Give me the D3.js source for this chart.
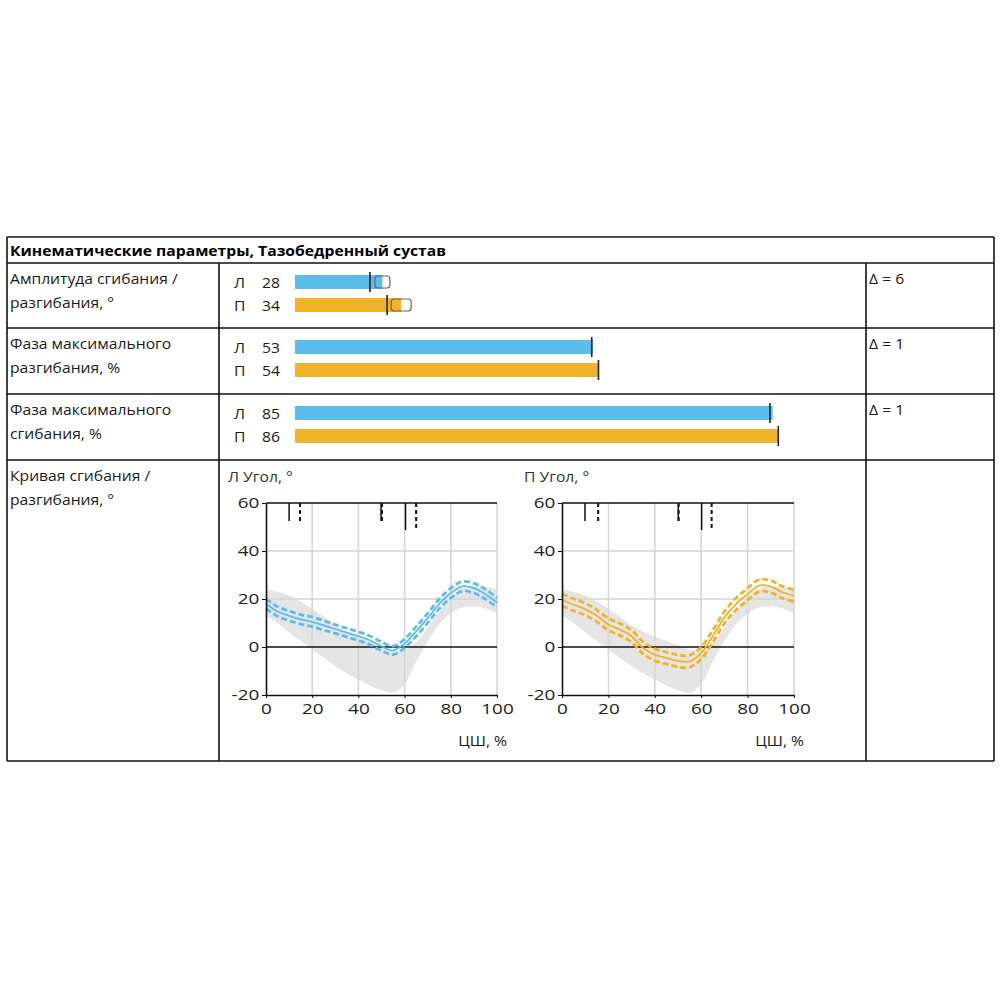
<!DOCTYPE html>
<html>
<head>
<meta charset="utf-8">
<script src="https://cdn.jsdelivr.net/npm/d3@7"></script>
<style>
body{margin:0;background:#fff}
text{font-family:"Open Sans",sans-serif;font-size:14px}
</style>
</head>
<body>
<div id="chart"></div>
<script>
// ---- data ----
var title = "Кинематические параметры, Тазобедренный сустав";
var sides = ["Л", "П"];
var sideColors = ["#5bbde9", "#f1b428"];
var rowLabels = [
	["Амплитуда сгибания /", "разгибания, °"],
	["Фаза максимального", "разгибания, %"],
	["Фаза максимального", "сгибания, %"],
	["Кривая сгибания /", "разгибания, °"]
];
var ampValues = [28, 34];
var ampStd = [2.4, 3.2];
var ampMarks = [24, 29.5];
var extPhase = [53, 54];
var extMarks = [52.8, 54];
var flexPhase = [85, 86];
var flexMarks = [84.5, 86];
var deltas = [6, 1, 1];

var cyclePct = [0, 5, 10, 15, 20, 25, 30, 35, 40, 45, 50, 55, 60, 65, 70, 75, 80, 85, 90, 95, 100];
var meanL = [18, 14.8, 13, 11.5, 10.5, 9, 7.5, 6, 4.5, 2.8, 0.3, -1.4, 1.5, 6.5, 12, 18, 22.5, 25.3, 24.5, 22, 18.5];
var stdL = [2, 2, 2, 2, 2, 2, 1.8, 1.8, 1.8, 1.8, 1.8, 1.8, 1.8, 2, 2, 2, 2, 2, 2, 2, 2];
var meanR = [19.6, 17.6, 15.8, 13, 9.4, 7.3, 4.5, -0.4, -3.2, -4.6, -5.8, -6, -2.5, 4.5, 12.3, 17.9, 22, 25.6, 25.2, 22.8, 21.4];
var stdR = [2.5, 2.5, 2.5, 2.5, 2.5, 2.5, 2.5, 2.5, 2.5, 2.5, 2.5, 2.5, 2.5, 2.5, 2.5, 2.5, 2.5, 2.5, 2.5, 2.5, 2.5];
var normUpper = [24, 23, 21.5, 19, 16, 12.5, 9, 6.5, 4.5, 2.5, 0.5, -1, -1, 2, 8, 15, 21, 24.5, 25.5, 25, 24];
var normLower = [13, 10, 6, 2.5, -1, -4.5, -8, -11, -13.5, -16, -18, -19, -15.5, -6, 2.5, 9.5, 14, 16.5, 17, 16, 14];

// gait events: opposite foot off, opposite foot contact, foot off
var eventsL = [10, 49.8, 60.4];
var eventsLRef = [14.7, 50.2, 65];
var eventsR = [9.9, 50.1, 60.2];
var eventsRRef = [15.6, 50.3, 64.5];
var eventLong = [false, false, true];

var xTicks = [0, 20, 40, 60, 80, 100];
var yTicks = [-20, 0, 20, 40, 60];

// ---- layout ----
var textStretch = 1.12;
var tickStretch = 1.35;

var svg = d3.select("#chart").append("svg")
	.attr("width", 1000)
	.attr("height", 1000);

// text drawn a bit wider than the font, like the source
function stxt(parent, x, y, str){
	return parent.append("text")
		.attr("transform", "translate(" + x + "," + y + ") scale(" + textStretch + ",1)")
		.attr("fill", "#1a1a1a")
		.text(str);
}

var tbl = {left: 7, right: 994, top: 237, col1: 219, col2: 866, rows: [263, 328, 394, 460, 761]};

// table borders
var hLines = [tbl.top].concat(tbl.rows);
svg.selectAll(".hline")
	.data(hLines)
	.enter().append("line")
	.attr("class", "hline")
	.attr("x1", tbl.left).attr("x2", tbl.right)
	.attr("y1", function(d){ return d }).attr("y2", function(d){ return d })
	.attr("stroke", "#111").attr("stroke-width", 1.6);

svg.selectAll(".vline")
	.data([[tbl.left, tbl.top], [tbl.right, tbl.top], [tbl.col1, tbl.rows[0]], [tbl.col2, tbl.rows[0]]])
	.enter().append("line")
	.attr("class", "vline")
	.attr("x1", function(d){ return d[0] }).attr("x2", function(d){ return d[0] })
	.attr("y1", function(d){ return d[1] }).attr("y2", tbl.rows[4])
	.attr("stroke", "#111").attr("stroke-width", 1.6);

stxt(svg, 10, 256, title)
	.attr("font-weight", "bold")
	.attr("fill", "#000");

// row labels
rowLabels.forEach(function(lines, r){
	lines.forEach(function(t, k){
		stxt(svg, 10, tbl.rows[r] + 21 + k * 24, t);
	});
});

// delta column
deltas.forEach(function(d, i){
	stxt(svg, 869, tbl.rows[i] + 21, "Δ = " + d);
});

// ---- bars ----
var xAmp = d3.scaleLinear().domain([0, 180]).range([295, 857]);
var xPhase = d3.scaleLinear().domain([0, 100]).range([295, 857]);

var barRows = [
	{vals: ampValues, marks: ampMarks, std: ampStd, scale: xAmp},
	{vals: extPhase, marks: extMarks, std: null, scale: xPhase},
	{vals: flexPhase, marks: flexMarks, std: null, scale: xPhase}
];

barRows.forEach(function(row, r){
	var g = svg.append("g");
	var barY = function(i){ return tbl.rows[r] + 12 + i * 23 };

	sides.forEach(function(s, i){
		stxt(g, 234, barY(i) + 13, s);
		stxt(g, 262, barY(i) + 13, row.vals[i]);
	});

	g.selectAll(".bar")
		.data(row.vals)
		.enter().append("rect")
		.attr("class", "bar")
		.attr("x", row.scale(0))
		.attr("y", function(d, i){ return barY(i) })
		.attr("width", function(d){ return row.scale(d) - row.scale(0) })
		.attr("height", 14)
		.attr("fill", function(d, i){ return sideColors[i] });

	if (row.std){
		g.selectAll(".std_box")
			.data(row.vals)
			.enter().append("rect")
			.attr("class", "std_box")
			.attr("x", function(d, i){ return row.scale(d - row.std[i]) })
			.attr("y", function(d, i){ return barY(i) + 1 })
			.attr("width", function(d, i){ return row.scale(d + row.std[i]) - row.scale(d - row.std[i]) })
			.attr("height", 12)
			.attr("rx", 3)
			.attr("fill", "none")
			.attr("stroke", "#666")
			.attr("stroke-width", 1.2);
	}

	g.selectAll(".mark")
		.data(row.marks)
		.enter().append("line")
		.attr("class", "mark")
		.attr("x1", function(d){ return row.scale(d) })
		.attr("x2", function(d){ return row.scale(d) })
		.attr("y1", function(d, i){ return barY(i) - 3 })
		.attr("y2", function(d, i){ return barY(i) + 17 })
		.attr("stroke", "#222")
		.attr("stroke-width", 1.6);
});

// ---- curve charts ----
function drawCurve(x0, x1, label, mean, std, color, ev, evRef){
	var g = svg.append("g");
	var x = d3.scaleLinear().domain([0, 100]).range([x0, x1]);
	var y = d3.scaleLinear().domain([-20, 60]).range([695, 503]);

	// grid
	g.selectAll(".vgrid")
		.data(xTicks.slice(1))
		.enter().append("line")
		.attr("x1", function(d){ return x(d) }).attr("x2", function(d){ return x(d) })
		.attr("y1", y(60)).attr("y2", y(-20))
		.attr("stroke", "#d6d6d6").attr("stroke-width", 1.6);
	g.selectAll(".hgrid")
		.data([20, 40])
		.enter().append("line")
		.attr("x1", x(0)).attr("x2", x(100))
		.attr("y1", function(d){ return y(d) }).attr("y2", function(d){ return y(d) })
		.attr("stroke", "#d6d6d6").attr("stroke-width", 1.6);

	// norm band
	var area = d3.area()
		.x(function(d, i){ return x(cyclePct[i]) })
		.y0(function(d, i){ return y(normLower[i]) })
		.y1(function(d, i){ return y(normUpper[i]) })
		.curve(d3.curveCatmullRom);
	g.append("path")
		.attr("d", area(cyclePct))
		.attr("fill", "#d3d3d3")
		.attr("opacity", 0.6);

	// zero and top lines
	g.append("line")
		.attr("x1", x(0)).attr("x2", x(100))
		.attr("y1", y(0)).attr("y2", y(0))
		.attr("stroke", "#111").attr("stroke-width", 1.5);
	g.append("line")
		.attr("x1", x(0)).attr("x2", x(100))
		.attr("y1", y(60)).attr("y2", y(60))
		.attr("stroke", "#111").attr("stroke-width", 1.5);

	// curves
	var line = function(arr){
		return d3.line()
			.x(function(d, i){ return x(cyclePct[i]) })
			.y(function(d){ return y(d) })
			.curve(d3.curveCatmullRom)(arr);
	};
	var upper = mean.map(function(d, i){ return d + std[i] });
	var lower = mean.map(function(d, i){ return d - std[i] });

	[upper, lower].forEach(function(arr){
		g.append("path")
			.attr("d", line(arr))
			.attr("fill", "none")
			.attr("stroke", color)
			.attr("stroke-width", 2.8)
			.attr("stroke-dasharray", "6,3");
	});
	g.append("path")
		.attr("d", line(mean))
		.attr("fill", "none")
		.attr("stroke", color)
		.attr("stroke-width", 1.8);

	// axes
	g.append("g")
		.attr("transform", "translate(" + x0 + ",0)")
		.call(d3.axisLeft(y).tickValues(yTicks).tickFormat(function(d){ return d })
			.tickSizeInner(4).tickSizeOuter(0).tickPadding(1))
		.call(function(a){
			a.select(".domain").attr("stroke", "#111").attr("stroke-width", 1.6);
			a.selectAll(".tick line").attr("stroke", "#111");
			a.selectAll("text").attr("font-size", "17px").attr("fill", "#222")
				.attr("font-family", "Open Sans, sans-serif")
				.attr("transform", "scale(" + tickStretch + ",1)");
		});
	g.append("g")
		.attr("transform", "translate(0," + y(-20) + ")")
		.call(d3.axisBottom(x).tickValues(xTicks).tickSizeInner(3).tickSizeOuter(0).tickPadding(6))
		.call(function(a){
			a.select(".domain").attr("stroke", "#111").attr("stroke-width", 1.6);
			a.selectAll(".tick line").attr("stroke", "#111");
			a.selectAll("text").attr("font-size", "17px").attr("fill", "#222")
				.attr("font-family", "Open Sans, sans-serif")
				.attr("transform", "scale(" + tickStretch + ",1)");
		});

	// gait events
	g.selectAll(".ev")
		.data(ev)
		.enter().append("line")
		.attr("x1", function(d){ return x(d) }).attr("x2", function(d){ return x(d) })
		.attr("y1", y(60))
		.attr("y2", function(d, i){ return eventLong[i] ? y(48.7) : y(52.5) })
		.attr("stroke", "#111").attr("stroke-width", 1.5);
	g.selectAll(".evref")
		.data(evRef)
		.enter().append("line")
		.attr("x1", function(d){ return x(d) }).attr("x2", function(d){ return x(d) })
		.attr("y1", y(60))
		.attr("y2", function(d, i){ return eventLong[i] ? y(48.7) : y(52.5) })
		.attr("stroke", "#111").attr("stroke-width", 2)
		.attr("stroke-dasharray", "4,3");

	stxt(g, x0 - 38, 482, label).attr("fill", "#333");
	stxt(g, x1 + 10, 746, "ЦШ, %").attr("text-anchor", "end");
}

drawCurve(266, 497, "Л Угол, °", meanL, stdL, sideColors[0], eventsL, eventsLRef);
drawCurve(562, 794, "П Угол, °", meanR, stdR, sideColors[1], eventsR, eventsRRef);
</script>
</body>
</html>
